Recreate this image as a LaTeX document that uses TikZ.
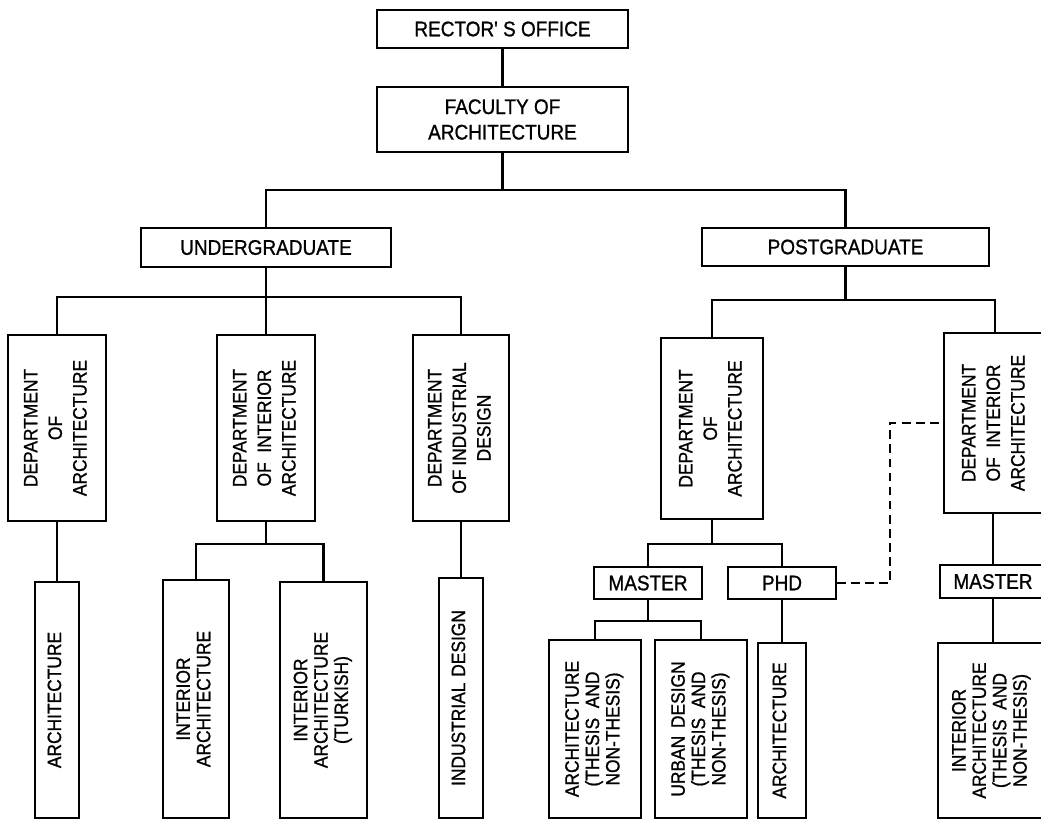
\documentclass[tikz,border=0pt]{standalone}
\usepackage{fontspec}
\usepackage{graphicx}
\newfontfamily\orgfont[FakeStretch=0.9, FakeBold=1]{Liberation Sans}
\newcommand{\vtext}[1]{\rotatebox{90}{\begin{tabular}{@{}c@{}}#1\end{tabular}}}

\begin{document}
\begin{tikzpicture}[x=0.02cm, y=-0.02cm,
    box/.style={draw, line width=1pt, inner sep=0pt, align=center,
        font=\orgfont\fontsize{12}{14.5}\selectfont},
    vbox/.style={draw, line width=1pt, inner sep=0pt,
        font=\orgfont\fontsize{11}{11.6}\selectfont},
    deptbox/.style={vbox, font=\orgfont\fontsize{11}{14}\selectfont},
    link/.style={line width=1.4pt},
    dashlink/.style={line width=1.4pt, dash pattern=on 5pt off 3pt}]
    \useasboundingbox (0,0) rectangle (1041,820);
    \clip (0,0) rectangle (1041,820);

    \node[box, minimum width=5.02cm, minimum height=0.76cm] (rector) at (502.5,29) {RECTOR' S OFFICE};
    \node[box, minimum width=5.02cm, minimum height=1.3cm] (faculty) at (502.5,119.5) {FACULTY OF\\ARCHITECTURE};
    \node[box, minimum width=5cm, minimum height=0.78cm] (ug) at (266,247.5) {UNDERGRADUATE};
    \node[box, minimum width=5.74cm, minimum height=0.76cm] (pg) at (845.5,247) {POSTGRADUATE};

    % undergraduate
    \node[deptbox, minimum width=1.96cm, minimum height=3.72cm] (ugArch) at (57,428) {\vtext{DEPARTMENT\\OF\\ARCHITECTURE}};
    \node[deptbox, minimum width=1.96cm, minimum height=3.72cm] (ugInt) at (266,428) {\vtext{DEPARTMENT\\OF\hspace{.5em}INTERIOR\\ARCHITECTURE}};
    \node[deptbox, minimum width=1.92cm, minimum height=3.72cm] (ugInd) at (461,428) {\vtext{DEPARTMENT\\OF\hspace{.2em}INDUSTRIAL\\DESIGN}};

    \node[vbox, minimum width=0.88cm, minimum height=4.72cm] (ugArchProg) at (57,700) {\vtext{ARCHITECTURE}};
    \node[vbox, minimum width=1.32cm, minimum height=4.76cm] (ugIntArch) at (196,699) {\vtext{INTERIOR\\ARCHITECTURE}};
    \node[vbox, minimum width=1.74cm, minimum height=4.72cm] (ugIntTr) at (323.5,700) {\vtext{INTERIOR\\ARCHITECTURE\\(TURKISH)}};
    \node[vbox, minimum width=0.88cm, minimum height=4.8cm] (ugIndProg) at (461,698) {\vtext{INDUSTRIAL\hspace{.3em}DESIGN}};

    % postgraduate
    \node[deptbox, minimum width=2.04cm, minimum height=3.62cm] (pgArch) at (712,428.5) {\vtext{DEPARTMENT\\OF\\ARCHITECTURE}};
    \node[deptbox, minimum width=2.04cm, minimum height=3.6cm] (pgInt) at (995,423) {\vtext{DEPARTMENT\\OF\hspace{.5em}INTERIOR\\ARCHITECTURE}};

    \node[box, minimum width=2.16cm, minimum height=0.64cm] (master) at (648,583) {MASTER};
    \node[box, minimum width=2.16cm, minimum height=0.64cm] (phd) at (782,583) {PHD};
    \node[box, minimum width=2.12cm, minimum height=0.66cm] (master2) at (993,581.5) {MASTER};

    \node[vbox, minimum width=1.84cm, minimum height=3.56cm] (msArch) at (595,729) {\vtext{ARCHITECTURE\\(THESIS\hspace{.5em}AND\\NON-THESIS)}};
    \node[vbox, minimum width=1.84cm, minimum height=3.56cm] (msUrban) at (701,729) {\vtext{URBAN\hspace{.4em}DESIGN\\(THESIS\hspace{.5em}AND\\NON-THESIS)}};
    \node[vbox, minimum width=0.96cm, minimum height=3.5cm] (phdArch) at (782,730.5) {\vtext{ARCHITECTURE}};
    \node[vbox, minimum width=2.16cm, minimum height=3.5cm] (msInt) at (992,730.5) {\vtext{INTERIOR\\ARCHITECTURE\\(THESIS\hspace{.5em}AND\\NON-THESIS)}};

    % connectors
    \coordinate (topbus) at (502.5,190);
    \coordinate (ugbus) at (266,297);
    \coordinate (pgbus) at (845.5,300);
    \coordinate (intbus) at (266,544);
    \coordinate (pgabus) at (712,544);
    \coordinate (msbus) at (648,621);

    \draw[link] (rector) -- (faculty);
    \draw[link] (faculty) -- (topbus);
    \draw[link] (ug.north) |- (topbus) -| (pg.north);

    \draw[link] (ug) -- (ugbus);
    \draw[link] (ugArch.north) |- (ugbus) -| (ugInd.north);
    \draw[link] (ugbus) -- (ugInt.north);
    \draw[link] (ugArch) -- (ugArchProg);
    \draw[link] (ugInt) -- (intbus);
    \draw[link] (ugIntArch.north) |- (intbus) -| (ugIntTr.north);
    \draw[link] (ugInd) -- (ugIndProg);

    \draw[link] (pg) -- (pgbus);
    \draw[link] (pgArch.north) |- (pgbus) -| (pgInt.north);
    \draw[link] (pgArch) -- (pgabus);
    \draw[link] (master.north) |- (pgabus) -| (phd.north);
    \draw[link] (master) -- (msbus);
    \draw[link] (msArch.north) |- (msbus) -| (msUrban.north);
    \draw[link] (phd) -- (phdArch);
    \draw[link] (pgInt.south -| master2.north) -- (master2.north);
    \draw[link] (master2) -- (master2 |- msInt.north);
    \draw[dashlink] (phd.east) -- ++(53,0) |- (pgInt.west);
\end{tikzpicture}
\end{document}
